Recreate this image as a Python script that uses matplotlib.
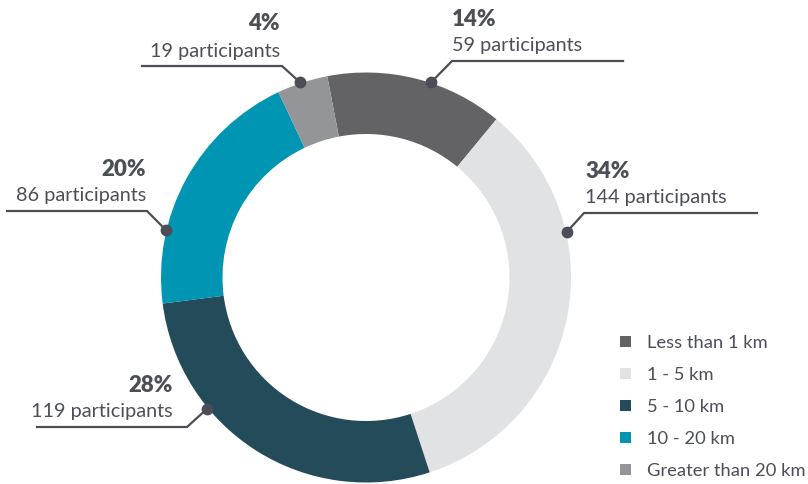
import matplotlib
matplotlib.use("Agg")
import matplotlib.pyplot as plt
import numpy as np

# ---- data ----
categories = ["Less than 1 km", "1 - 5 km", "5 - 10 km", "10 - 20 km", "Greater than 20 km"]
participants = [59, 144, 119, 86, 19]
percents = [14, 34, 28, 20, 4]
colors = ["#636366", "#e1e2e4", "#244b5a", "#0095b3", "#939598"]

W, H = 808, 484
TXT = "#4d4f58"
LINE = "#4b4e56"
plt.rcParams['font.family'] = ['Lato', 'DejaVu Sans']

fig = plt.figure(figsize=(W / 100, H / 100), dpi=100)
ax = fig.add_axes([0, 0, 1, 1])

cx, cy, R = 366, H - 277.5, 205
start = 100.9
wedges, _ = ax.pie(percents, colors=colors, startangle=start, counterclock=False,
                   center=(cx, cy), radius=R, wedgeprops=dict(width=R * 0.30, linewidth=0),
                   frame=True)
ax.set_xlim(0, W)
ax.set_ylim(0, H)
ax.set_aspect('equal')
ax.axis('off')

# annotation layout: (fraction within wedge, corner(x,y img), line end x, text x, align)
layout = [
    (0.583, (452, 61), 623, 452, 'left'),
    (0.308, (584, 213), 757, 585, 'left'),
    (0.68, (187, 427), 37, 173, 'right'),
    (0.2875, (147, 211), 7, 146, 'right'),
    (0.46, (282, 66), 142, 280, 'right'),
]
total = sum(percents)
cum = 0
for i, (frac, corner, xend, tx, ha) in enumerate(layout):
    a0 = cum / total * 360
    a = a0 + frac * percents[i] / total * 360
    cum += percents[i]
    th = np.radians(start - a)
    px, py = cx + R * 1.005 * np.cos(th), cy + R * 1.005 * np.sin(th)
    kx, ky = corner[0], H - corner[1]
    ax.plot([px, kx, xend], [py, ky, ky], color=LINE, lw=1.6, solid_joinstyle='miter', zorder=5)
    ax.plot([px], [py], 'o', ms=7.5, color=LINE, zorder=6)
    ax.text(tx, ky + 15, f"{participants[i]} participants", ha=ha, va='center',
            fontsize=14.3, color=TXT)
    ax.text(tx, ky + 42, f"{percents[i]}%", ha=ha, va='center',
            fontsize=16, fontweight='heavy', color=TXT)

leg = ax.legend(wedges, categories, loc='upper left', bbox_to_anchor=(620, H - 335),
                bbox_transform=ax.transData, frameon=False, fontsize=13.2,
                handlelength=0.6, handleheight=0.6, handletextpad=0.85,
                labelspacing=0.87, borderpad=0, borderaxespad=0)
for t in leg.get_texts():
    t.set_color(TXT)

fig.savefig("out.png", dpi=100)
